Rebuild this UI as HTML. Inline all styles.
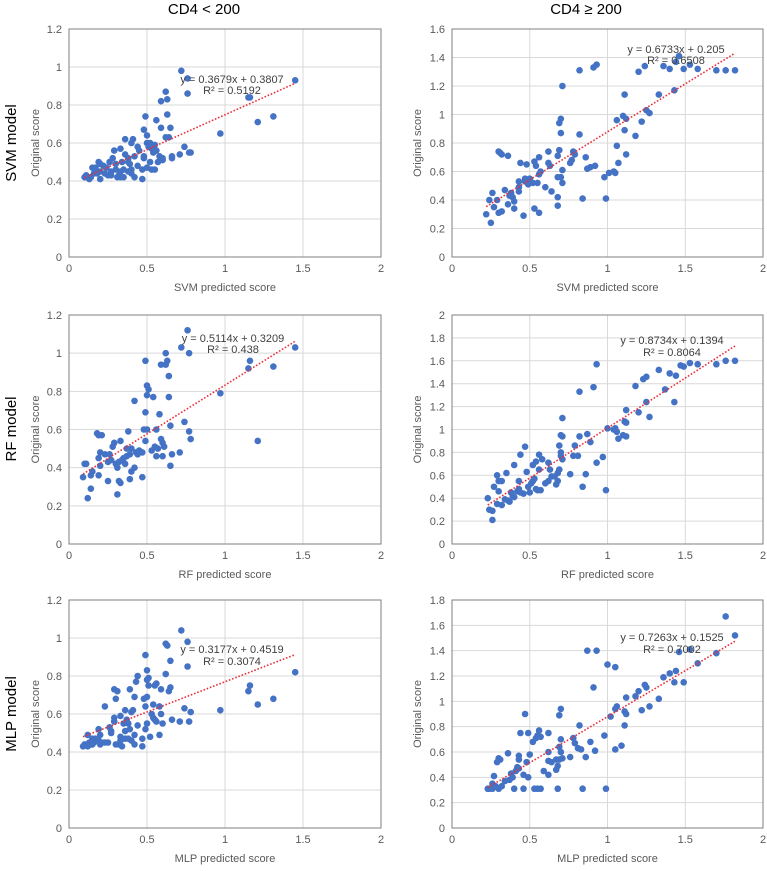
<!DOCTYPE html>
<html><head><meta charset="utf-8"><style>
body{margin:0;background:#fff;width:767px;height:866px;overflow:hidden}
svg{font-family:"Liberation Sans",sans-serif}
</style></head><body>
<svg id="c" width="767" height="866">
<text x="204" y="14" font-size="15" text-anchor="middle" fill="#000">CD4 &lt; 200</text>
<text x="586" y="14" font-size="15" text-anchor="middle" fill="#000">CD4 ≥ 200</text>
<text transform="translate(16,143) rotate(-90)" font-size="15" text-anchor="middle">SVM model</text>
<text transform="translate(16,429) rotate(-90)" font-size="15" text-anchor="middle">RF model</text>
<text transform="translate(16,714) rotate(-90)" font-size="15" text-anchor="middle">MLP model</text>
</svg>
<script>
const tl=[[0.72,0.98],[0.76,0.94],[0.76,0.86],[1.45,0.93],[1.15,0.84],[1.16,0.84],[1.31,0.74],[1.21,0.71],[0.97,0.65],[0.62,0.87],[0.63,0.83],[0.59,0.82],[0.49,0.74],[0.63,0.75],[0.56,0.72],[0.59,0.68],[0.65,0.68],[0.48,0.67],[0.50,0.64],[0.62,0.63],[0.64,0.63],[0.36,0.62],[0.41,0.62],[0.40,0.60],[0.50,0.60],[0.52,0.60],[0.55,0.59],[0.51,0.58],[0.53,0.57],[0.74,0.58],[0.33,0.57],[0.45,0.56],[0.29,0.56],[0.56,0.56],[0.78,0.55],[0.77,0.55],[0.58,0.53],[0.42,0.53],[0.48,0.52],[0.71,0.54],[0.66,0.53],[0.66,0.52],[0.60,0.52],[0.60,0.51],[0.28,0.52],[0.26,0.50],[0.19,0.50],[0.20,0.49],[0.17,0.47],[0.15,0.47],[0.22,0.48],[0.30,0.49],[0.34,0.50],[0.38,0.50],[0.39,0.49],[0.44,0.48],[0.47,0.46],[0.50,0.47],[0.53,0.46],[0.55,0.46],[0.52,0.50],[0.57,0.50],[0.40,0.46],[0.38,0.45],[0.35,0.46],[0.33,0.45],[0.32,0.43],[0.31,0.42],[0.33,0.42],[0.35,0.42],[0.40,0.44],[0.42,0.42],[0.47,0.41],[0.25,0.43],[0.27,0.43],[0.23,0.44],[0.20,0.45],[0.18,0.44],[0.20,0.41],[0.13,0.41],[0.12,0.42],[0.10,0.42],[0.11,0.43],[0.14,0.42],[0.16,0.44],[0.24,0.47],[0.27,0.45],[0.30,0.46],[0.36,0.54],[0.38,0.52],[0.44,0.58],[0.48,0.53],[0.54,0.55]];
const ml=[[0.76,1.12],[0.72,1.03],[0.77,1.00],[0.62,1.00],[1.45,1.03],[1.16,0.96],[1.15,0.92],[1.31,0.93],[0.97,0.79],[1.21,0.54],[0.49,0.96],[0.59,0.94],[0.63,0.96],[0.62,0.94],[0.64,0.88],[0.50,0.83],[0.51,0.81],[0.50,0.78],[0.54,0.77],[0.64,0.77],[0.42,0.75],[0.49,0.69],[0.58,0.68],[0.74,0.64],[0.65,0.62],[0.77,0.59],[0.78,0.55],[0.48,0.60],[0.50,0.60],[0.38,0.59],[0.56,0.60],[0.59,0.55],[0.60,0.53],[0.49,0.54],[0.18,0.58],[0.19,0.57],[0.21,0.57],[0.33,0.54],[0.29,0.53],[0.28,0.51],[0.20,0.48],[0.23,0.47],[0.26,0.47],[0.37,0.50],[0.40,0.50],[0.43,0.48],[0.45,0.49],[0.47,0.48],[0.53,0.49],[0.55,0.51],[0.57,0.50],[0.61,0.51],[0.56,0.46],[0.60,0.46],[0.66,0.47],[0.71,0.48],[0.65,0.41],[0.35,0.45],[0.37,0.46],[0.34,0.44],[0.32,0.43],[0.30,0.42],[0.36,0.42],[0.31,0.40],[0.42,0.40],[0.40,0.38],[0.19,0.45],[0.20,0.41],[0.19,0.36],[0.14,0.36],[0.15,0.38],[0.11,0.42],[0.10,0.42],[0.09,0.35],[0.25,0.33],[0.32,0.33],[0.33,0.32],[0.39,0.34],[0.47,0.35],[0.14,0.29],[0.31,0.26],[0.12,0.24],[0.27,0.44],[0.25,0.43],[0.39,0.47],[0.44,0.47]];
const bl=[[0.72,1.04],[0.76,0.98],[0.62,0.97],[0.63,0.96],[0.49,0.91],[0.65,0.88],[0.76,0.85],[1.45,0.82],[1.16,0.75],[1.15,0.72],[1.31,0.68],[1.21,0.65],[0.97,0.62],[0.50,0.83],[0.62,0.81],[0.44,0.80],[0.51,0.79],[0.50,0.78],[0.43,0.77],[0.56,0.76],[0.55,0.75],[0.65,0.74],[0.64,0.72],[0.59,0.73],[0.51,0.75],[0.29,0.73],[0.31,0.72],[0.39,0.73],[0.42,0.69],[0.48,0.68],[0.50,0.69],[0.30,0.68],[0.54,0.65],[0.58,0.64],[0.49,0.64],[0.23,0.64],[0.36,0.62],[0.41,0.62],[0.40,0.61],[0.74,0.63],[0.78,0.61],[0.53,0.60],[0.54,0.58],[0.55,0.57],[0.56,0.56],[0.59,0.60],[0.60,0.55],[0.66,0.57],[0.71,0.56],[0.77,0.56],[0.50,0.55],[0.44,0.54],[0.37,0.57],[0.38,0.55],[0.35,0.55],[0.33,0.59],[0.29,0.58],[0.29,0.56],[0.26,0.53],[0.27,0.51],[0.27,0.50],[0.19,0.52],[0.20,0.49],[0.42,0.49],[0.39,0.52],[0.36,0.51],[0.33,0.48],[0.36,0.47],[0.38,0.47],[0.40,0.46],[0.33,0.46],[0.47,0.47],[0.49,0.52],[0.52,0.48],[0.58,0.49],[0.12,0.49],[0.15,0.47],[0.17,0.47],[0.16,0.45],[0.19,0.46],[0.21,0.45],[0.23,0.45],[0.25,0.45],[0.13,0.45],[0.14,0.44],[0.10,0.44],[0.09,0.43],[0.12,0.43],[0.15,0.44],[0.20,0.44],[0.30,0.44],[0.32,0.44],[0.34,0.43],[0.42,0.44],[0.47,0.43]];
const tr=[[1.46,1.41],[1.44,1.37],[1.53,1.35],[1.49,1.32],[1.58,1.32],[1.70,1.31],[1.76,1.31],[1.82,1.31],[1.40,1.32],[1.36,1.34],[1.24,1.34],[1.20,1.30],[0.93,1.35],[0.91,1.33],[0.82,1.31],[0.71,1.20],[1.43,1.17],[1.33,1.14],[1.11,1.14],[1.25,1.03],[1.27,1.01],[1.10,0.99],[1.12,0.97],[1.06,0.96],[1.22,0.95],[0.70,0.97],[0.69,0.94],[0.70,0.87],[0.82,0.86],[1.11,0.89],[1.18,0.85],[1.06,0.78],[0.69,0.75],[0.78,0.74],[0.79,0.72],[1.12,0.72],[0.86,0.70],[0.68,0.71],[0.77,0.68],[0.76,0.66],[1.07,0.66],[0.62,0.74],[0.62,0.66],[0.63,0.64],[0.92,0.64],[0.89,0.63],[0.87,0.62],[1.04,0.60],[1.05,0.59],[1.01,0.59],[0.98,0.56],[0.71,0.61],[0.68,0.56],[0.70,0.56],[0.71,0.52],[0.53,0.67],[0.56,0.70],[0.54,0.64],[0.48,0.65],[0.44,0.66],[0.30,0.74],[0.31,0.73],[0.32,0.72],[0.36,0.71],[0.57,0.60],[0.56,0.58],[0.60,0.49],[0.64,0.46],[0.55,0.52],[0.52,0.52],[0.50,0.55],[0.47,0.55],[0.47,0.53],[0.49,0.51],[0.43,0.53],[0.43,0.49],[0.43,0.46],[0.38,0.45],[0.34,0.47],[0.37,0.43],[0.39,0.42],[0.40,0.39],[0.36,0.37],[0.29,0.40],[0.26,0.45],[0.24,0.40],[0.27,0.35],[0.22,0.30],[0.30,0.31],[0.32,0.32],[0.40,0.34],[0.53,0.34],[0.56,0.31],[0.46,0.29],[0.25,0.24],[0.68,0.36],[0.68,0.42],[0.84,0.41],[0.99,0.41]];
const mr=[[0.93,1.57],[0.82,1.33],[0.91,1.37],[1.33,1.52],[1.47,1.56],[1.49,1.55],[1.53,1.58],[1.58,1.57],[1.70,1.57],[1.76,1.60],[1.82,1.60],[1.40,1.49],[1.44,1.47],[1.25,1.46],[1.23,1.44],[1.18,1.38],[1.37,1.35],[1.43,1.24],[1.25,1.24],[1.12,1.17],[1.20,1.15],[1.27,1.11],[0.71,1.10],[1.11,1.07],[1.12,1.06],[1.00,1.01],[1.05,1.01],[1.04,1.00],[1.06,0.98],[1.07,0.92],[1.10,0.95],[1.12,0.94],[0.70,0.95],[0.71,0.94],[0.82,0.94],[0.87,0.96],[0.89,0.89],[0.69,0.86],[0.79,0.86],[0.47,0.85],[0.70,0.80],[0.70,0.77],[0.71,0.74],[0.78,0.77],[0.81,0.77],[0.97,0.76],[0.93,0.71],[0.44,0.78],[0.56,0.78],[0.54,0.72],[0.58,0.74],[0.62,0.71],[0.69,0.65],[0.68,0.62],[0.40,0.69],[0.52,0.69],[0.48,0.63],[0.56,0.65],[0.63,0.65],[0.76,0.61],[0.86,0.61],[0.29,0.60],[0.30,0.55],[0.32,0.55],[0.35,0.62],[0.43,0.55],[0.52,0.55],[0.53,0.57],[0.60,0.53],[0.62,0.55],[0.64,0.59],[0.66,0.59],[0.68,0.55],[0.67,0.52],[0.84,0.50],[0.99,0.47],[0.27,0.50],[0.30,0.46],[0.42,0.46],[0.43,0.48],[0.44,0.45],[0.46,0.44],[0.49,0.50],[0.50,0.45],[0.51,0.53],[0.54,0.48],[0.55,0.47],[0.57,0.47],[0.38,0.45],[0.39,0.42],[0.40,0.41],[0.36,0.38],[0.34,0.39],[0.37,0.37],[0.29,0.35],[0.32,0.34],[0.23,0.40],[0.24,0.30],[0.26,0.29],[0.26,0.21]];
const br=[[1.76,1.67],[1.82,1.52],[1.53,1.41],[1.46,1.39],[1.70,1.38],[1.58,1.30],[0.87,1.40],[0.93,1.40],[1.00,1.29],[1.05,1.27],[1.44,1.24],[1.40,1.22],[1.36,1.19],[1.43,1.15],[1.49,1.15],[1.24,1.13],[1.25,1.11],[0.91,1.11],[1.20,1.08],[1.18,1.04],[1.12,1.03],[1.33,1.02],[1.06,0.96],[1.05,0.94],[1.11,0.92],[1.12,0.90],[1.27,0.96],[1.22,0.93],[0.70,0.94],[1.02,0.88],[0.69,0.89],[0.47,0.90],[1.11,0.81],[0.82,0.81],[0.56,0.77],[0.62,0.75],[0.44,0.75],[0.49,0.75],[0.55,0.73],[0.57,0.72],[0.54,0.71],[0.52,0.68],[0.70,0.70],[0.78,0.71],[0.79,0.67],[0.98,0.73],[0.89,0.68],[0.81,0.63],[0.83,0.62],[0.92,0.61],[1.05,0.62],[1.09,0.65],[0.69,0.64],[0.70,0.60],[0.62,0.60],[0.50,0.58],[0.36,0.59],[0.30,0.55],[0.31,0.54],[0.29,0.52],[0.43,0.57],[0.43,0.54],[0.48,0.52],[0.62,0.53],[0.64,0.52],[0.67,0.54],[0.69,0.54],[0.71,0.55],[0.76,0.56],[0.86,0.56],[0.68,0.49],[0.67,0.46],[0.59,0.45],[0.62,0.42],[0.42,0.48],[0.43,0.47],[0.41,0.45],[0.38,0.43],[0.39,0.40],[0.37,0.38],[0.34,0.37],[0.46,0.42],[0.49,0.40],[0.27,0.41],[0.26,0.35],[0.28,0.33],[0.32,0.33],[0.30,0.31],[0.23,0.31],[0.24,0.31],[0.26,0.31],[0.40,0.31],[0.46,0.31],[0.53,0.31],[0.55,0.31],[0.57,0.31],[0.68,0.31],[0.84,0.31],[0.99,0.31]];
const slopes=[0.3679,0.6733,0.5114,0.8734,0.3177,0.7263];
const intercepts=[0.3807,0.205,0.3209,0.1394,0.4519,0.1525];
const r2=["0.5192","0.6508","0.438","0.8064","0.3074","0.7002"];
const yMaxes=[1.2,1.6,1.2,2,1.2,1.8];
const xTicks=["0","0.5","1","1.5","2"];
const models=["SVM","SVM","RF","RF","MLP","MLP"];
const series=[tl,tr,ml,mr,bl,br];
const NS="http://www.w3.org/2000/svg";
const svg=document.getElementById('c');
const L=[{x:69,w:312},{x:452,w:311}];
const R=[{y:29,b:257},{y:315,b:544},{y:600,b:828}];
const eqOff=[[163,54,65],[224,24,35],[164,27,38],[220,29,41],[163,53,65],[220,41,53]];
function mk(t,a,p){const e=document.createElementNS(NS,t);for(const k in a)e.setAttribute(k,a[k]);(p||svg).appendChild(e);return e;}
for(let i=0;i<6;i++){
 const col=i%2,row=Math.floor(i/2);
 const x0=L[col].x,w=L[col].w,top=R[row].y,bot=R[row].b,h=bot-top,ym=yMaxes[i];
 const sx=v=>x0+v/2*w, sy=v=>bot-v/ym*h;
 const g=mk('g',{});
 
 
 const step=ym>1.6?0.2:0.2;
 for(let v=0;v<=ym+1e-9;v+=step){
  const y=sy(v);
  const gl=mk('line',{x1:x0,x2:x0+w,y1:y,y2:y,stroke:'#d9d9d9','stroke-width':1},g);
  
  
  const t=mk('text',{x:x0-7,y:y+4,'font-size':11,'text-anchor':'end',fill:'#595959'},g);
  t.textContent=String(Math.round(v*10)/10);
  
  
 }
 xTicks.forEach(s=>{
  const x=sx(parseFloat(s));
  const gl=mk('line',{x1:x,x2:x,y1:top,y2:bot,stroke:'#d9d9d9','stroke-width':1},g);
  
  
  const t=mk('text',{x:x,y:bot+15,'font-size':11,'text-anchor':'middle',fill:'#595959'},g);
  t.textContent=s;
  
  
 });
 const fr=mk('rect',{x:x0,y:top,width:w,height:h,fill:'none',stroke:'#7f7f7f','stroke-width':1},g);
 
 
 const xt=mk('text',{x:x0+w/2,y:bot+34,'font-size':11,'text-anchor':'middle',fill:'#595959'},g);
 xt.textContent=models[i]+' predicted score';
 
 
 const yx=col?417:35;
 const yt=mk('text',{transform:`translate(${yx+4},${top+h/2}) rotate(-90)`,'font-size':11,'text-anchor':'middle',fill:'#595959'},g);
 yt.textContent='Original score';
 
 
 const d=series[i];
 d.forEach(p=>{
  const c=mk('circle',{cx:sx(p[0]),cy:sy(p[1]),r:3.3,fill:'#4472C4'},g);
  
  
 });
 let mn=Infinity,mx=-Infinity;d.forEach(p=>{mn=Math.min(mn,p[0]);mx=Math.max(mx,p[0]);});
 const tln=mk('line',{x1:sx(mn),y1:sy(slopes[i]*mn+intercepts[i]),x2:sx(mx),y2:sy(slopes[i]*mx+intercepts[i]),stroke:'#e8303a','stroke-width':1.6,'stroke-dasharray':'1.6 1.8'},g);
 
 
 const o=eqOff[i];
 const e1=mk('text',{x:x0+o[0],y:top+o[1],'font-size':11,'text-anchor':'middle',fill:'#404040'},g);
 e1.textContent='y = '+slopes[i]+'x + '+intercepts[i];
 
 
 const e2=mk('text',{x:x0+o[0],y:top+o[2],'font-size':11,'text-anchor':'middle',fill:'#404040'},g);
 e2.textContent='R² = '+r2[i];
 
 
}
</script>
</body></html>
